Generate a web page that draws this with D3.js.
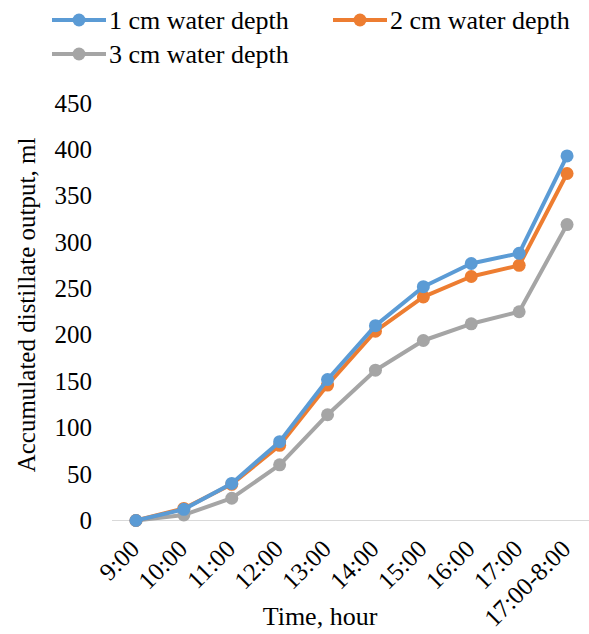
<!DOCTYPE html>
<html><head><meta charset="utf-8">
<script src="https://cdn.jsdelivr.net/npm/d3@7"></script>
<style>body{margin:0;background:#fff}svg{display:block}
svg text{font-family:"Liberation Serif","Times New Roman",Times,"DejaVu Serif",serif !important;fill:#000}</style>
</head><body>
<script>
const categories = ["9:00","10:00","11:00","12:00","13:00","14:00","15:00","16:00","17:00","17:00-8:00"];
const depth1 = [0, 12, 40, 85, 152, 210, 252, 277, 288, 393];
const depth2 = [0, 13, 39, 81, 146, 204, 241, 263, 275, 374];
const depth3 = [0, 6, 24, 60, 114, 162, 194, 212, 225, 319];
const seriesNames = ["1 cm water depth","2 cm water depth","3 cm water depth"];
const colors = ["#5B9BD5","#ED7D31","#A5A5A5"];
const yTicks = [0,50,100,150,200,250,300,350,400,450];

const W=589,H=634;
const svg=d3.select("body").append("svg").attr("width",W).attr("height",H);
const x=d3.scaleBand().domain(categories).range([112,591]);
const y=d3.scaleLinear().domain([0,450]).range([520.5,103]);

// baseline
svg.append("line").attr("x1",112).attr("x2",591).attr("y1",y(0)).attr("y2",y(0))
  .attr("stroke","#d9d9d9").attr("stroke-width",1);

// y axis
const ya=svg.append("g").attr("transform","translate(92,0)")
  .call(d3.axisLeft(y).tickValues(yTicks).tickSize(0).tickPadding(0));
ya.select(".domain").remove();
ya.selectAll("text").attr("font-size",25);

// x axis
const xa=svg.append("g").attr("transform",`translate(0,${y(0)})`)
  .call(d3.axisBottom(x).tickSize(0));
xa.select(".domain").remove();
xa.selectAll("text").attr("font-size",25)
  .attr("text-anchor","end").attr("x",0).attr("y",0).attr("dy",0)
  .attr("transform","translate(5,30) rotate(-45)");

// titles
svg.append("text").attr("x",320).attr("y",625).attr("text-anchor","middle")
  .attr("font-size",26).text("Time, hour");
svg.append("text").attr("transform","translate(35,305) rotate(-90)").attr("text-anchor","middle")
  .attr("font-size",25).text("Accumulated distillate output, ml");

const data=[depth1,depth2,depth3];
const line=d3.line().x((d,i)=>x(categories[i])+x.bandwidth()/2).y(d=>y(d));
[2,1,0].forEach(s=>{
  const g=svg.append("g");
  g.append("path").attr("d",line(data[s])).attr("fill","none").attr("stroke",colors[s])
    .attr("stroke-width",4).attr("stroke-linejoin","round");
  g.selectAll("circle").data(data[s]).join("circle")
    .attr("cx",(d,i)=>x(categories[i])+x.bandwidth()/2).attr("cy",d=>y(d)).attr("r",6.5)
    .attr("fill",colors[s]);
});

// legend
const legPos=[[52,20],[333,20],[52,54]];
seriesNames.forEach((n,i)=>{
  const [lx,ly]=legPos[i];
  const g=svg.append("g").attr("transform",`translate(${lx},${ly})`);
  g.append("line").attr("x1",0).attr("x2",54).attr("stroke",colors[i]).attr("stroke-width",4);
  g.append("circle").attr("cx",27).attr("r",6.5).attr("fill",colors[i]);
  g.append("text").attr("x",57).attr("dy","0.33em").attr("font-size",26).text(n);
});
</script>
</body></html>
